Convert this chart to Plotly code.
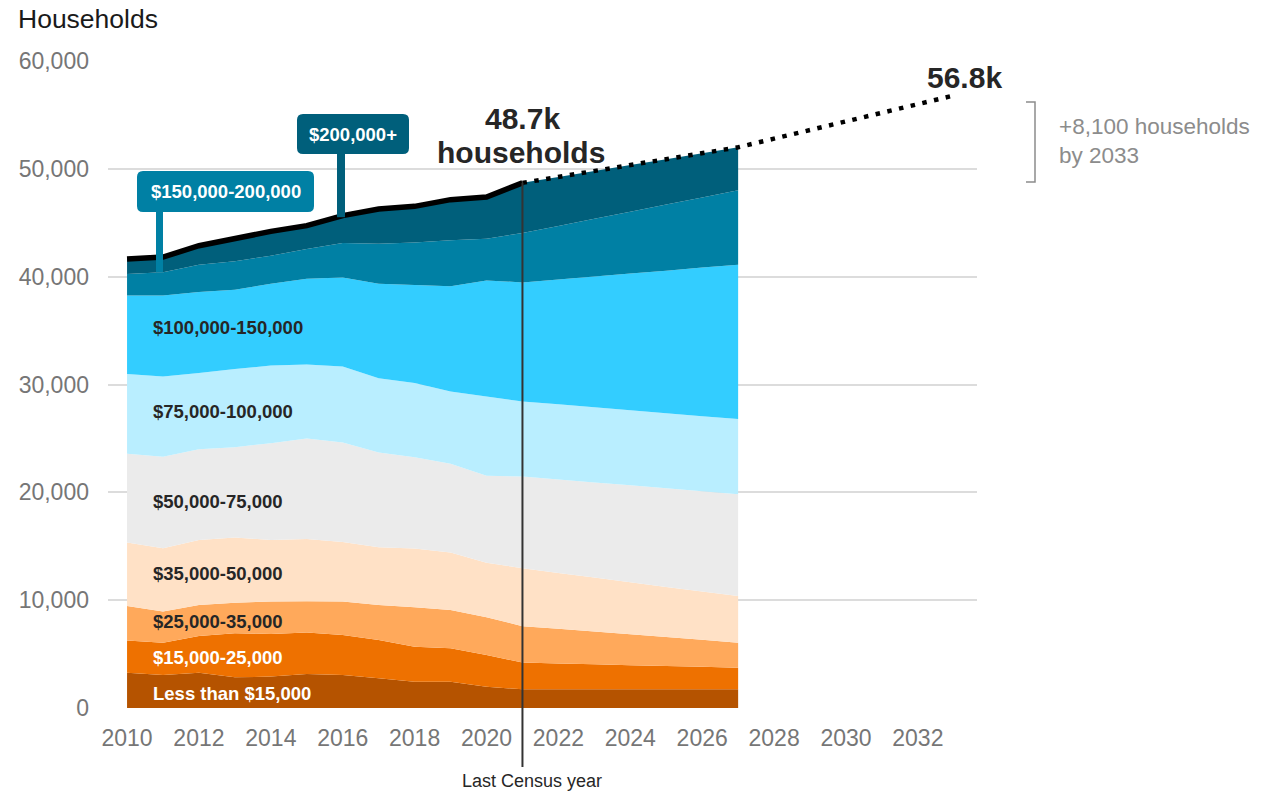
import plotly.graph_objects as go

# ---------------- data ----------------
years = list(range(2010, 2028))
proj_years = list(range(2021, 2034))

series_names = ["Less than $15,000", "$15,000-25,000", "$25,000-35,000", "$35,000-50,000",
                "$50,000-75,000", "$75,000-100,000", "$100,000-150,000",
                "$150,000-200,000", "$200,000+"]

lt15k = [3280, 3060, 3280, 2850, 2910, 3160, 3060, 2750, 2440, 2440, 1980, 1730,
         1730, 1730, 1730, 1730, 1730, 1730]
k15_25 = [2970, 3000, 3400, 4080, 3960, 3830, 3710, 3560, 3250, 3100, 2940, 2480,
          2400, 2320, 2240, 2170, 2090, 2010]
k25_35 = [3220, 2880, 2880, 2840, 3000, 2910, 3100, 3250, 3650, 3550, 3500, 3370,
          3220, 3050, 2870, 2680, 2500, 2320]
k35_50 = [5870, 5880, 6030, 6030, 5720, 5780, 5530, 5350, 5450, 5320, 5060, 5380,
          5180, 5000, 4820, 4650, 4490, 4330]
k50_75 = [8230, 8470, 8410, 8390, 8970, 9310, 9220, 8780, 8470, 8230, 8050, 8500,
          8660, 8820, 8990, 9140, 9290, 9440]
k75_100 = [7400, 7460, 7060, 7240, 7210, 6870, 7050, 6900, 6870, 6720, 7360, 6970,
           6970, 6960, 6960, 6970, 6960, 6960]
k100_150 = [7290, 7510, 7510, 7360, 7580, 7950, 8260, 8760, 9100, 9740, 10760, 11040,
            11580, 12140, 12680, 13220, 13780, 14320]
k150_200 = [1990, 2140, 2540, 2630, 2600, 2760, 3190, 3710, 3950, 4270, 3870, 4580,
            4970, 5350, 5740, 6130, 6510, 6900]
k200plus = [1380, 1420, 1760, 2170, 2250, 2160, 2540, 3220, 3340, 3770, 3870, 4650,
            4540, 4430, 4320, 4210, 4100, 3990]

proj_total = [48700, 49250, 49800, 50350, 50900, 51450, 52000,
              52800, 53600, 54400, 55200, 56000, 56800]

y_ticks = [0, 10000, 20000, 30000, 40000, 50000, 60000]
x_ticks = list(range(2010, 2034, 2))

series_values = [lt15k, k15_25, k25_35, k35_50, k50_75, k75_100, k100_150, k150_200, k200plus]
colors = ["#b55300", "#ee7100", "#ffa95b", "#ffe1c6", "#ebebeb",
          "#b9eeff", "#33cdff", "#0080a4", "#005f7b"]

# ---------------- layout geometry ----------------
W, H = 1273, 794
L, R, T, B = 108, 977, 61, 708          # plot area in pixels
X0, X1 = 2009.47, 2033.645
Y0, Y1 = 0, 60000


def X(px):
    return X0 + (px - L) / (R - L) * (X1 - X0)


def Y(py):
    return Y0 + (B - py) / (B - T) * (Y1 - Y0)


def PX(px):
    return (px - L) / (R - L)


def PY(py):
    return (B - py) / (B - T)


font_family = "Liberation Sans, Arial, sans-serif"

fig = go.Figure()

cum = [0] * len(years)
cums = []
for name, vals, col in zip(series_names, series_values, colors):
    cum = [c + v for c, v in zip(cum, vals)]
    cums.append(cum)
    fig.add_trace(go.Scatter(
        x=years, y=vals, name=name, stackgroup="one", mode="none",
        fillcolor=col, line=dict(width=0), hoverinfo="skip", showlegend=False))

total = cums[-1]
hist_n = years.index(2021) + 1

# actual total line
fig.add_trace(go.Scatter(
    x=years[:hist_n], y=total[:hist_n], mode="lines",
    line=dict(color="black", width=5.5), hoverinfo="skip", showlegend=False))
# projected dotted line
fig.add_trace(go.Scatter(
    x=proj_years, y=proj_total, mode="lines",
    line=dict(color="black", width=4.5, dash="4.5px,7.5px"), hoverinfo="skip", showlegend=False))

shapes = []
annotations = []

# Last census vertical line
shapes.append(dict(type="line", xref="x", yref="paper", x0=2021, x1=2021,
                   y0=PY(767), y1=total[hist_n - 1] / (Y1 - Y0),
                   line=dict(color="#333333", width=2), layer="above"))


def rounded_rect(x0, y0, x1, y1, r):
    # pixel coords -> data path
    pts = [
        f"M {X(x0 + r)},{Y(y0)}",
        f"L {X(x1 - r)},{Y(y0)}",
        f"Q {X(x1)},{Y(y0)} {X(x1)},{Y(y0 + r)}",
        f"L {X(x1)},{Y(y1 - r)}",
        f"Q {X(x1)},{Y(y1)} {X(x1 - r)},{Y(y1)}",
        f"L {X(x0 + r)},{Y(y1)}",
        f"Q {X(x0)},{Y(y1)} {X(x0)},{Y(y1 - r)}",
        f"L {X(x0)},{Y(y0 + r)}",
        f"Q {X(x0)},{Y(y0)} {X(x0 + r)},{Y(y0)}",
        "Z",
    ]
    return " ".join(pts)


# callout 1: $150,000-200,000 (stem down to 2011 top of band)
i11 = years.index(2011)
shapes.append(dict(type="line", xref="x", yref="y", x0=X(159.5), x1=X(159.5),
                   y0=cums[7][i11], y1=Y(205), line=dict(color=colors[7], width=7)))
shapes.append(dict(type="path", xref="x", yref="y", path=rounded_rect(137, 171, 314, 212, 6),
                   fillcolor=colors[7], line=dict(width=0)))
annotations.append(dict(x=X(225.5), y=Y(191.5), xref="x", yref="y", text="<b>$150,000-200,000</b>",
                        showarrow=False, font=dict(color="white", size=18.5, family=font_family)))

# callout 2: $200,000+ (stem down to 2016 total)
i16 = years.index(2016)
shapes.append(dict(type="line", xref="x", yref="y", x0=X(341), x1=X(341),
                   y0=total[i16] - 150, y1=Y(148), line=dict(color=colors[8], width=8)))
shapes.append(dict(type="path", xref="x", yref="y", path=rounded_rect(297, 114, 409, 154, 6),
                   fillcolor=colors[8], line=dict(width=0)))
annotations.append(dict(x=X(353), y=Y(134), xref="x", yref="y", text="<b>$200,000+</b>",
                        showarrow=False, font=dict(color="white", size=18.5, family=font_family)))

# in-area labels
label_specs = [
    ("$100,000-150,000", 327, "#262626"),
    ("$75,000-100,000", 411, "#262626"),
    ("$50,000-75,000", 501, "#262626"),
    ("$35,000-50,000", 573, "#262626"),
    ("$25,000-35,000", 621, "#262626"),
    ("$15,000-25,000", 657, "white"),
    ("Less than $15,000", 693, "white"),
]
for txt, py, col in label_specs:
    annotations.append(dict(x=X(151), y=Y(py), xref="x", yref="y", text=f"<b>{txt}</b>",
                            xanchor="left", yanchor="middle", showarrow=False,
                            font=dict(color=col, size=18.5, family=font_family)))

# 48.7k households
annotations.append(dict(x=2021, y=Y(118), xref="x", yref="y", text="<b>48.7k</b>",
                        showarrow=False, xanchor="center", yanchor="middle",
                        font=dict(color="#262626", size=30, family=font_family)))
annotations.append(dict(x=X(521), y=Y(152), xref="x", yref="y", text="<b>households</b>",
                        showarrow=False, xanchor="center", yanchor="middle",
                        font=dict(color="#262626", size=30, family=font_family)))
# 56.8k
annotations.append(dict(x=X(964), y=Y(77), xref="x", yref="y", text="<b>56.8k</b>",
                        showarrow=False, xanchor="center", yanchor="middle",
                        font=dict(color="#262626", size=30, family=font_family)))

# bracket + note
shapes.append(dict(type="path", xref="paper", yref="paper",
                   path=f"M {PX(1026)},{PY(102)} L {PX(1035)},{PY(102)} L {PX(1035)},{PY(182)} L {PX(1026)},{PY(182)}",
                   line=dict(color="#8c8c8c", width=1.5)))
annotations.append(dict(x=PX(1057), y=PY(141), xref="paper", yref="paper",
                        text="+8,100 households<br>by 2033", align="left",
                        xanchor="left", yanchor="middle", showarrow=False,
                        font=dict(color="#8c8c8c", size=22.5, family=font_family)))

# title
annotations.append(dict(x=PX(16), y=PY(19), xref="paper", yref="paper", text="Households",
                        xanchor="left", yanchor="middle", showarrow=False,
                        font=dict(color="#1a1a1a", size=26.5, family=font_family)))
# Last Census year
annotations.append(dict(x=X(532), y=PY(781), xref="x", yref="paper", text="Last Census year",
                        xanchor="center", yanchor="middle", showarrow=False,
                        font=dict(color="#262626", size=18, family=font_family)))

fig.update_layout(
    width=W, height=H,
    margin=dict(l=L, r=W - R, t=T, b=H - B, pad=0),
    plot_bgcolor="white", paper_bgcolor="white",
    shapes=shapes, annotations=annotations,
    font=dict(family=font_family),
    hovermode=False,
    xaxis=dict(range=[X0, X1], tickvals=x_ticks, ticktext=[str(v) for v in x_ticks],
               showgrid=False, zeroline=False, showline=False, ticks="",
               ticklabelstandoff=14,
               tickfont=dict(size=23, color="#767676", family=font_family)),
    yaxis=dict(range=[Y0, Y1], tickvals=y_ticks, ticktext=[f"{v:,}" for v in y_ticks],
               showgrid=True, gridcolor="#dcdcdc", gridwidth=2, zeroline=False,
               showline=False, ticks="", ticklabelstandoff=18,
               tickfont=dict(size=23, color="#767676", family=font_family)),
)

fig.write_html("out.html", config={"displayModeBar": False},
               post_script="document.body.style.margin='0';document.body.style.overflow='hidden';")
